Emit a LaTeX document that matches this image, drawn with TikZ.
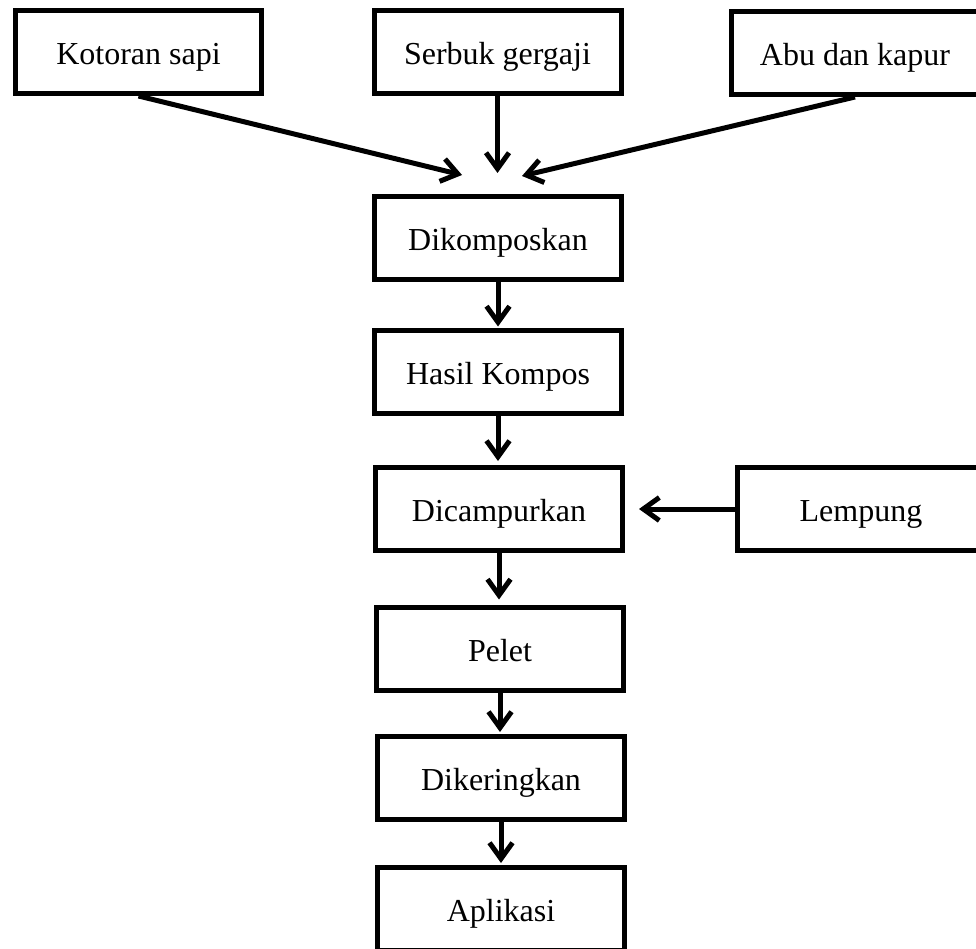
\documentclass[tikz,border=0pt]{standalone}
\usepackage{fontspec}
\setmainfont{Liberation Serif}
\usetikzlibrary{arrows.meta}
\begin{document}
\begin{tikzpicture}[x=1pt,y=-1pt,
  box/.style={draw, line width=5pt, inner sep=0pt, minimum width=247pt, minimum height=83pt,
    text height=30pt, text depth=5pt, font=\fontsize{32}{38}\selectfont},
  arr/.style={line width=5pt, -{Straight Barb[length=16pt,width=23pt]}}]
\useasboundingbox (0,0) rectangle (976,949);
\clip (0,0) rectangle (976,949);
\node[box, minimum width=246pt] (k) at (138.5,52) {Kotoran sapi};
\node[box] (s) at (497.5,52) {Serbuk gergaji};
\node[box] (a) at (855,53) {Abu dan kapur};
\node[box] (d1) at (498,238) {Dikomposkan};
\node[box] (d2) at (498,371.5) {Hasil Kompos};
\node[box] (d3) at (499,509) {Dicampurkan};
\node[box] (l) at (861,509) {Lempung};
\node[box] (d4) at (500,648.5) {Pelet};
\node[box] (d5) at (501,778) {Dikeringkan};
\node[box] (d6) at (501,909) {Aplikasi};
\coordinate (t1) at (462,175);
\coordinate (t2) at (497.5,173);
\coordinate (t3) at (522,176);
\draw[arr] (k.south) -- (t1);
\draw[arr] (s.south) -- (t2);
\draw[arr] (a.south) -- (t3);
\draw[arr, shorten >=1pt] (d1.south) -- (d1.south |- d2.north);
\draw[arr, shorten >=4pt] (d2.south) -- (d2.south |- d3.north);
\draw[arr, shorten >=5pt] (d3.south) -- (d3.south |- d4.north);
\draw[arr, shorten >=2pt] (d4.south) -- (d4.south |- d5.north);
\draw[arr, shorten >=2pt] (d5.south) -- (d5.south |- d6.north);
\draw[arr, shorten >=14pt] (l.west) -- (d3.east);
\end{tikzpicture}
\end{document}
